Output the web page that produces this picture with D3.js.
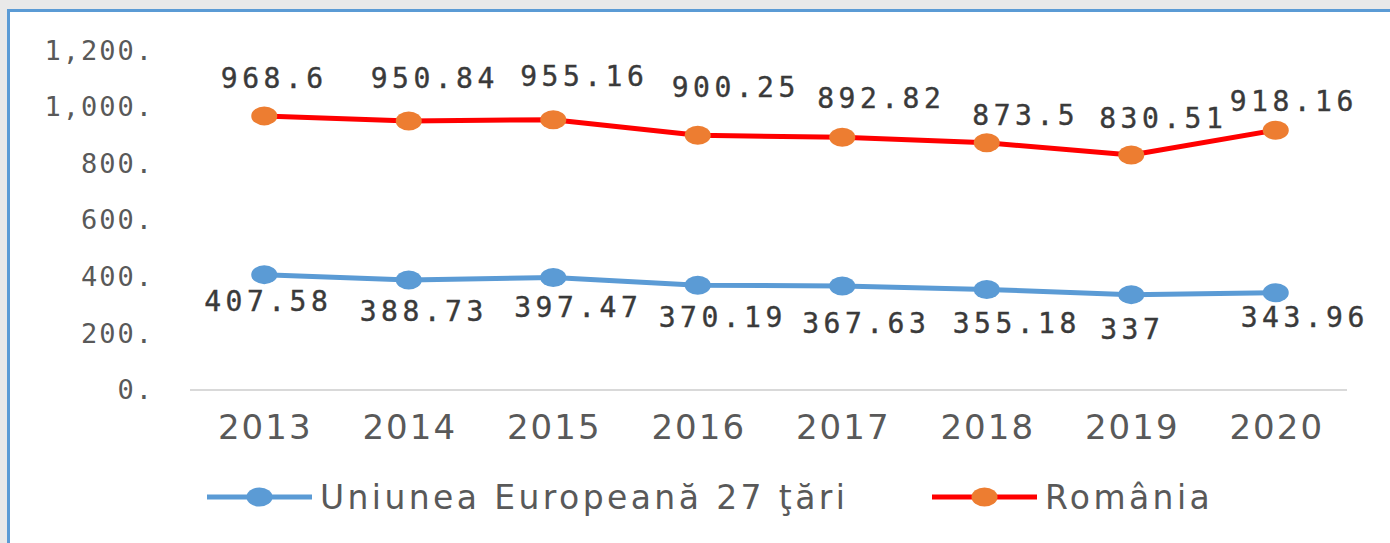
<!DOCTYPE html>
<html>
<head>
<meta charset="utf-8">
<script src="https://cdn.jsdelivr.net/npm/d3@7"></script>
<style>
  html, body { margin: 0; padding: 0; background: #e9e9e9; }
  svg { display: block; }
</style>
</head>
<body>
<svg id="chart" width="1390" height="543"></svg>
<script>
// ---- data ----
const years = ["2013", "2014", "2015", "2016", "2017", "2018", "2019", "2020"];
const euValues = [407.58, 388.73, 397.47, 370.19, 367.63, 355.18, 337, 343.96];
const roValues = [968.6, 950.84, 955.16, 900.25, 892.82, 873.5, 830.51, 918.16];
const euLabels = ["407.58", "388.73", "397.47", "370.19", "367.63", "355.18", "337", "343.96"];
const roLabels = ["968.6", "950.84", "955.16", "900.25", "892.82", "873.5", "830.51", "918.16"];
const yTicks = [0, 200, 400, 600, 800, 1000, 1200];
const seriesNames = ["Uniunea Europeană 27 ţări", "România"];

// label nudges (layout only)
const roDx = [8, 24, 29, 36, 37, 37, 30, 16];
const roDy = [-38, -43, -44, -48, -39, -28, -37, -29];
const euDx = [2, 13, 23, 23, 22, 28, -1, 27];
const euDy = [26, 31, 29, 32, 37, 33, 34, 24];

const svg = d3.select("#chart");

// frame
svg.append("rect").attr("x", 0).attr("y", 0).attr("width", 1390).attr("height", 543).attr("fill", "#e9e9e9");
svg.append("rect").attr("x", 7).attr("y", 9).attr("width", 1383).attr("height", 534).attr("fill", "#5b9bd5");
svg.append("rect").attr("x", 10).attr("y", 12).attr("width", 1380).attr("height", 531).attr("fill", "#ffffff");

const x = d3.scaleBand().domain(years).range([192, 1348]).padding(0);
const y = d3.scaleLinear().domain([0, 1200]).range([390, 50.4]);
const cx = d => x(d) + x.bandwidth() / 2;

// baseline
svg.append("line")
  .attr("x1", 190).attr("x2", 1347)
  .attr("y1", y(0)).attr("y2", y(0))
  .attr("stroke", "#d9d9d9").attr("stroke-width", 2);

// y axis
const yAxis = svg.append("g")
  .attr("transform", "translate(192,0)")
  .call(d3.axisLeft(y).tickValues(yTicks).tickSize(0).tickPadding(38)
    .tickFormat(d => d3.format(",")(d) + "."));
yAxis.select(".domain").remove();
yAxis.selectAll("text")
  .attr("font-family", "'DejaVu Sans Mono', monospace")
  .attr("font-size", 27)
  .attr("letter-spacing", 2)
  .attr("fill", "#595959");

// x axis
const xAxis = svg.append("g")
  .attr("transform", `translate(0,${y(0)})`)
  .call(d3.axisBottom(x).tickSize(0).tickPadding(25));
xAxis.select(".domain").remove();
xAxis.selectAll("text")
  .attr("font-family", "'DejaVu Sans', sans-serif")
  .attr("font-size", 34)
  .attr("letter-spacing", 2)
  .attr("dx", 1)
  .attr("fill", "#595959");

const line = d3.line().x(d => cx(d.year)).y(d => y(d.value));
const euData = years.map((yr, i) => ({ year: yr, value: euValues[i], label: euLabels[i], dx: euDx[i], dy: euDy[i] }));
const roData = years.map((yr, i) => ({ year: yr, value: roValues[i], label: roLabels[i], dx: roDx[i], dy: roDy[i] }));

function drawSeries(data, lineColor, markerColor) {
  svg.append("path").datum(data)
    .attr("fill", "none")
    .attr("stroke", lineColor)
    .attr("stroke-width", 5)
    .attr("stroke-linejoin", "round")
    .attr("d", line);
  svg.append("g").selectAll("ellipse").data(data).join("ellipse")
    .attr("cx", d => cx(d.year))
    .attr("cy", d => y(d.value))
    .attr("rx", 13).attr("ry", 9.5)
    .attr("fill", markerColor);
  svg.append("g").selectAll("text").data(data).join("text")
    .attr("x", d => cx(d.year) + d.dx + 2)
    .attr("y", d => y(d.value) + d.dy)
    .attr("dy", "0.36em")
    .attr("text-anchor", "middle")
    .attr("font-family", "'DejaVu Sans Mono', monospace")
    .attr("font-size", 28)
    .attr("letter-spacing", 4.5)
    .attr("fill", "#3a3a3a")
    .attr("stroke", "#3a3a3a")
    .attr("stroke-width", 0.4)
    .text(d => d.label);
}

drawSeries(euData, "#5b9bd5", "#5b9bd5");
drawSeries(roData, "#ff0000", "#ed7d31");

// legend
const legendItems = [
  { name: seriesNames[0], line: "#5b9bd5", marker: "#5b9bd5", x0: 207 },
  { name: seriesNames[1], line: "#ff0000", marker: "#ed7d31", x0: 932 }
];
const lg = svg.append("g").selectAll("g").data(legendItems).join("g")
  .attr("transform", d => `translate(${d.x0},497)`);
lg.append("line").attr("x1", 0).attr("x2", 105).attr("y1", 0).attr("y2", 0)
  .attr("stroke", d => d.line).attr("stroke-width", 5);
lg.append("ellipse").attr("cx", 52.5).attr("cy", 0).attr("rx", 13).attr("ry", 9.5)
  .attr("fill", d => d.marker);
lg.append("text")
  .attr("x", 113).attr("y", 12)
  .attr("font-family", "'DejaVu Sans', sans-serif")
  .attr("font-size", 33)
  .attr("letter-spacing", 3.4)
  .attr("fill", "#595959")
  .text(d => d.name);
</script>
</body>
</html>
